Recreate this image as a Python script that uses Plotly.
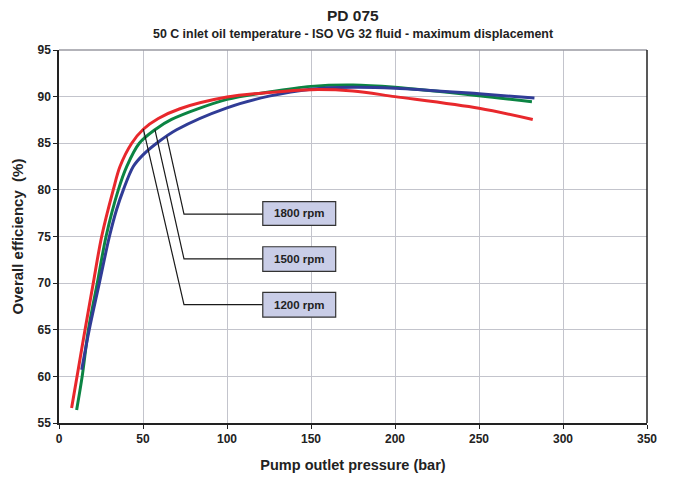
import plotly.graph_objects as go

# pump outlet pressure (bar) / overall efficiency (%)
red_x = [7.5, 11.5, 15.5, 20.4, 25.4, 32.3, 36.3, 43.3, 50.2, 59.1, 72, 100, 125, 150, 175, 200, 250, 282]
red_y = [56.6, 60.8, 65, 70, 75, 80, 82.5, 85, 86.5, 87.65, 88.7, 89.95, 90.45, 90.75, 90.6, 90.0, 88.75, 87.55]

green_x = [10.5, 13.8, 17.5, 22.8, 28, 35.3, 40.3, 47.8, 57.1, 67, 100, 125, 150, 175, 200, 250, 281.5]
green_y = [56.4, 60, 65, 70, 75, 80, 82.5, 85, 86.45, 87.55, 89.7, 90.5, 91.1, 91.25, 91.0, 90.1, 89.45]

blue_x = [13.5, 18, 24, 30, 34.3, 38.3, 44.2, 50, 58.1, 70, 100, 125, 150, 175, 200, 250, 283]
blue_y = [60.7, 65, 70, 75, 77.9, 80, 82.5, 83.75, 85, 86.45, 88.8, 90.05, 90.8, 91.0, 90.9, 90.3, 89.85]

labels = ["1200 rpm", "1500 rpm", "1800 rpm"]
curve_pts = [(50.2, 86.55), (57.1, 86.45), (64.1, 85.75)]
elbow_y = [67.7, 72.6, 77.4]
elbow_x = 74.4
box_x0, box_x1 = 121.3, 164.7
box_y0 = [66.35, 71.25, 76.2]
box_y1 = [69.0, 73.9, 78.75]

RED = "#e8282c"
GREEN = "#0b8443"
BLUE = "#303c96"
FONT = "Liberation Sans, Arial, sans-serif"

fig = go.Figure()

for xs, ys, col in [(green_x, green_y, GREEN), (blue_x, blue_y, BLUE), (red_x, red_y, RED)]:
    fig.add_trace(go.Scatter(x=xs, y=ys, mode="lines", line=dict(color=col, width=3, shape="spline", smoothing=0.9),
                             hoverinfo="skip"))

# leader lines and label boxes
for (cx, cy), ey, y0, y1, lab in zip(curve_pts, elbow_y, box_y0, box_y1, labels):
    fig.add_trace(go.Scatter(x=[cx, elbow_x, box_x0], y=[cy, ey, ey], mode="lines",
                             line=dict(color="#1a1a1a", width=1.2), hoverinfo="skip"))
    fig.add_shape(type="rect", x0=box_x0, x1=box_x1, y0=y0, y1=y1, xref="x", yref="y",
                  fillcolor="#c9cde7", line=dict(color="#333333", width=1.2), layer="above")
    fig.add_annotation(x=(box_x0 + box_x1) / 2, y=(y0 + y1) / 2, text="<b>%s</b>" % lab, showarrow=False,
                       font=dict(family=FONT, size=11.5, color="#222222"))

fig.add_annotation(x=0.5, y=1.0, xref="paper", yref="paper", yanchor="middle", yshift=35,
                   text="<b>PD 075</b>", showarrow=False,
                   font=dict(family=FONT, size=15.5, color="#222222"))
fig.add_annotation(x=0.5, y=1.0, xref="paper", yref="paper", yanchor="middle", yshift=16,
                   text="<b>50 C inlet oil temperature - ISO VG 32 fluid - maximum displacement</b>", showarrow=False,
                   font=dict(family=FONT, size=12.4, color="#222222"))

# page body has an 8px margin, so the figure margins are reduced by it
fig.update_layout(
    width=673, height=480,
    showlegend=False,
    margin=dict(l=51, r=34, t=42, b=65),
    paper_bgcolor="white", plot_bgcolor="white",
    font=dict(family=FONT, color="#222222"),
    xaxis=dict(range=[0, 350], dtick=50, showgrid=True, gridcolor="#c3c4cc", gridwidth=1,
               showline=True, linecolor="#222222", linewidth=1.5, automargin=False,
               ticks="outside", ticklen=4, tickcolor="#222222",
               tickfont=dict(family=FONT, size=12, weight="bold"),
               title=dict(text="<b>Pump outlet pressure (bar)</b>", font=dict(family=FONT, size=14.5), standoff=15),
               zeroline=False),
    yaxis=dict(range=[55, 95], dtick=5, showgrid=True, gridcolor="#c3c4cc", gridwidth=1,
               showline=True, linecolor="#222222", linewidth=1.5, automargin=False,
               ticks="outside", ticklen=4, tickcolor="#222222",
               tickfont=dict(family=FONT, size=12, weight="bold"),
               title=dict(text="<b>Overall efficiency  (%)</b>", font=dict(family=FONT, size=15), standoff=10),
               zeroline=False),
)

# top border gray, right border dark
fig.add_shape(type="line", xref="paper", yref="paper", x0=0, x1=1, y0=1, y1=1, line=dict(color="#9a9aa2", width=1.5))
fig.add_shape(type="line", xref="paper", yref="paper", x0=1, x1=1, y0=0, y1=1, line=dict(color="#222222", width=1.5))

fig.write_html("out.html")
